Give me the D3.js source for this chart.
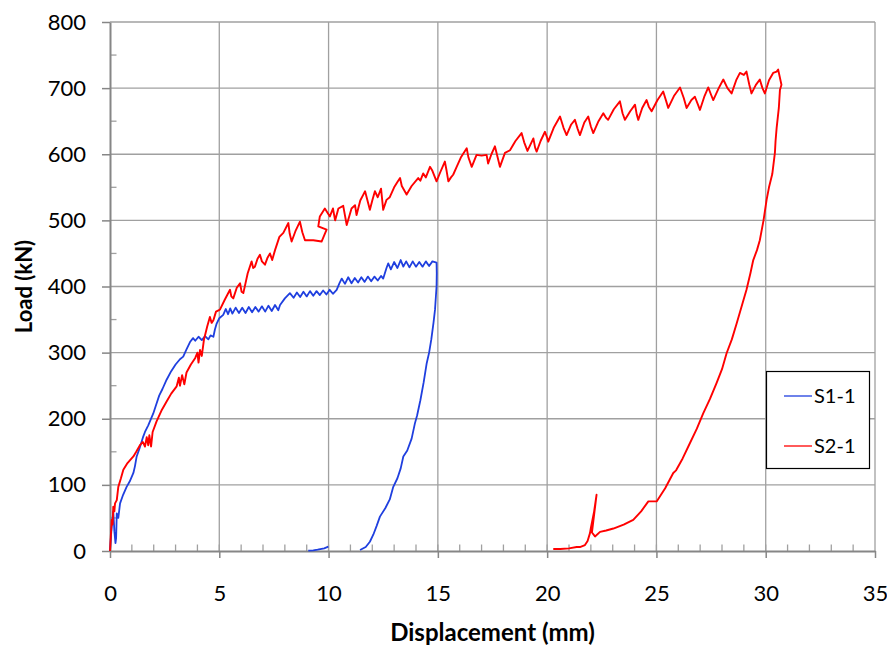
<!DOCTYPE html>
<html>
<head>
<meta charset="utf-8">
<script src="https://cdn.jsdelivr.net/npm/d3@7"></script>
<style>
  body { margin: 0; background: #fff; }
  text { font-family: Lato, "Open Sans", sans-serif; fill: #000; }
</style>
</head>
<body>
<div class="chart"></div>
<script>
// x ticks (mm) and y ticks (kN)
var xTicks = [0, 5, 10, 15, 20, 25, 30, 35]
var yTicks = [0, 100, 200, 300, 400, 500, 600, 700, 800]

// S1-1 displacement / load, null = break in the line
var s1x = [0,0.05,0.1,0.15,0.2,0.25,0.28,0.31,0.38,0.46,0.6,0.76,0.9,1.07,1.14,1.22,1.35,1.52,1.6,1.75,1.98,2.1,2.25,2.4,2.59,2.8,3.0,3.2,3.35,3.5,3.66,3.8,3.9,4.05,4.2,4.35,4.5,4.6,4.73,4.8,4.88,5.0,5.18,
  5.3,5.4,5.5,5.6,5.75,5.9,6.05,6.2,6.35,6.5,6.65,6.8,6.95,7.1,7.25,7.4,7.55,7.7,7.78,
  8.0,8.23,8.4,8.55,8.7,8.85,9.0,9.15,9.3,9.45,9.6,9.75,9.9,10.05,10.2,10.37,
  10.5,10.6,10.75,10.9,11.05,11.2,11.35,11.5,11.65,11.8,11.95,12.1,12.25,12.4,12.5,
  12.65,12.73,12.85,13.0,13.15,13.3,13.42,13.55,13.7,13.85,14.0,14.15,14.3,14.45,14.6,14.75,14.94,
  14.95,14.94,14.9,14.87,14.8,14.7,14.6,14.49,14.35,14.2,14.05,13.95,13.8,13.6,13.42,13.3,13.15,12.96,12.8,12.6,12.35,12.2,12.05,11.89,11.7,11.44,
  null,9.99,9.8,9.5,9.3,9.07]
var s1y = [0,25,45,60,30,12,20,57,50,72,85,97,105,118,128,143,155,173,180,190,208,220,235,245,259,272,282,290,294,305,316,322,318,324,319,325,320,326,324,335,344,352,357,
  366,358,367,359,368,360,368,360,369,361,369,362,370,362,371,363,372,364,372,
  382,390,383,391,384,392,385,393,386,393,387,394,388,395,389,395,
  405,412,404,414,405,413,406,414,407,415,408,415,409,416,412,
  428,435,426,437,428,440,430,438,429,438,430,437,430,438,431,438,436,
  420,400,380,365,345,320,300,284,255,228,205,193,170,152,143,125,110,97,78,65,52,38,25,14,6,1.5,
  null,6.5,4,2,1,0.5]

// S2-1 displacement / load
var s2x = [0,0.05,0.08,0.12,0.15,0.2,0.23,0.31,0.38,0.5,0.61,0.8,1.07,1.2,1.37,1.5,1.6,1.68,1.75,1.8,1.88,1.95,2.13,2.35,2.59,2.8,3.05,3.15,3.2,3.3,3.4,3.5,3.7,3.9,4.0,4.05,4.12,4.2,4.3,4.45,4.57,4.65,4.73,4.85,5.03,
  5.25,5.49,5.55,5.64,5.8,5.95,6.02,6.1,6.3,6.48,6.55,6.63,6.75,6.86,6.95,7.09,7.2,7.32,7.42,7.55,7.75,7.93,8.16,8.22,8.31,8.5,8.69,8.8,8.92,9.3,9.68,9.91,9.53,9.6,9.83,
  10.06,10.2,10.3,10.45,10.67,10.83,11.05,11.21,11.28,11.45,11.59,11.67,11.89,12.0,12.12,12.25,12.4,12.5,12.65,12.8,13.0,13.15,13.27,13.35,13.57,13.8,14.1,14.2,14.33,14.45,14.64,14.75,14.94,
  15.1,15.32,15.4,15.48,15.6,15.7,15.85,16.05,16.32,16.4,16.55,16.77,17.0,17.23,17.3,17.45,17.61,17.7,17.84,18.07,18.3,18.55,18.83,18.95,19.1,19.37,19.45,19.52,19.7,19.9,20.0,20.05,
  20.3,20.59,20.75,20.89,21.1,21.27,21.4,21.5,21.7,21.88,22.0,22.11,22.35,22.57,22.7,22.79,23.05,23.33,23.45,23.56,23.8,24.02,24.1,24.17,24.35,24.55,24.65,24.78,
  25.05,25.31,25.45,25.54,25.8,26.08,26.25,26.38,26.6,26.76,26.9,26.99,27.2,27.37,27.5,27.6,27.85,28.06,28.25,28.44,28.65,28.82,29.0,29.12,29.25,29.35,29.55,29.73,29.85,29.96,30.15,30.34,30.5,30.57,30.72,
  30.65,30.6,30.5,30.45,30.42,30.3,30.15,30.04,29.9,29.73,29.6,29.43,29.3,29.12,28.9,28.67,28.45,28.21,28.0,27.75,27.45,27.14,26.85,26.53,26.2,25.9,25.77,25.4,25.01,24.8,24.63,24.3,23.94,23.5,23.03,22.7,22.42,22.19,22.05,22.26,22.15,22.0,21.96,21.85,21.73,21.5,21.35,21.0,20.6,20.28]
var s2y = [0,30,47,40,67,60,72,77,97,110,123,133,143,150,160,165,158,172,160,175,158,180,196,212,226,238,249,262,250,266,252,270,282,292,300,285,304,295,320,340,354,345,349,362,365,
  380,395,385,382,398,405,392,390,420,438,428,430,442,448,438,433,443,450,440,455,475,481,496,480,468,485,498,482,470,470,468,486,491,506,518,
  506,518,500,518,522,493,518,523,508,530,539,544,516,530,544,535,548,516,531,535,550,558,564,552,539,552,564,560,571,565,581,575,559,
  572,589,575,559,565,569,580,595,609,595,581,599,598,599,586,600,612,600,581,602,606,620,632,618,605,624,610,604,620,634,625,619,
  640,657,640,629,645,652,638,629,648,657,642,632,650,662,655,652,668,680,662,652,665,675,660,652,670,682,672,665,
  682,695,680,670,688,701,685,670,682,687,675,667,688,701,690,682,700,713,700,692,712,723,720,725,705,692,705,713,700,692,712,723,725,728,705,
  697,670,640,620,602,570,550,531,500,470,455,440,420,395,370,344,320,299,275,254,230,208,185,163,140,122,118,95,75,75,75,60,47,40,34,31,29,22,28,85,60,35,27,15,9,6,6,4,3,3]

var seriesNames = ["S1-1", "S2-1"]
var seriesColors = ["#1f3fdf", "#ff0000"]

var width = 887
var height = 646
var m = {left: 110, right: 875, top: 22, bottom: 551}

var svg = d3.select(".chart")
    .append("svg")
    .attr("width", width)
    .attr("height", height)

var x = d3.scaleLinear().domain([0, 35]).range([m.left, m.right])
var y = d3.scaleLinear().domain([0, 800]).range([m.bottom, m.top])

// gridlines
svg.append("g")
    .selectAll("line")
    .data(xTicks.slice(1))
    .enter().append("line")
    .attr("x1", d => x(d)).attr("x2", d => x(d))
    .attr("y1", m.top).attr("y2", m.bottom)
    .attr("stroke", "#a0a0a0").attr("stroke-width", 1.3)

svg.append("g")
    .selectAll("line")
    .data(yTicks.slice(1))
    .enter().append("line")
    .attr("x1", m.left).attr("x2", m.right)
    .attr("y1", d => y(d)).attr("y2", d => y(d))
    .attr("stroke", "#a0a0a0").attr("stroke-width", 1.3)

// minor ticks (inside)
svg.append("g")
    .selectAll("line")
    .data(d3.range(1, 35))
    .enter().append("line")
    .attr("x1", d => x(d)).attr("x2", d => x(d))
    .attr("y1", m.bottom).attr("y2", m.bottom - 6.5)
    .attr("stroke", "#a0a0a0").attr("stroke-width", 1.3)

svg.append("g")
    .selectAll("line")
    .data(d3.range(50, 800, 100))
    .enter().append("line")
    .attr("x1", m.left).attr("x2", m.left + 6.5)
    .attr("y1", d => y(d)).attr("y2", d => y(d))
    .attr("stroke", "#a0a0a0").attr("stroke-width", 1.3)

// axes
var xAxis = svg.append("g")
    .attr("transform", "translate(0," + m.bottom + ")")
    .call(d3.axisBottom(x).tickValues(xTicks).tickSize(7).tickPadding(27).tickSizeOuter(0))
var yAxis = svg.append("g")
    .attr("transform", "translate(" + m.left + ",0)")
    .call(d3.axisLeft(y).tickValues(yTicks).tickSize(8).tickPadding(16).tickSizeOuter(0))

svg.selectAll(".domain").attr("stroke", "#868686").attr("stroke-width", 2)
svg.selectAll(".tick line").attr("stroke", "#868686").attr("stroke-width", 1.5)
svg.selectAll(".tick text").style("font-size", "22px").style("font-family", "Lato, sans-serif").attr("fill", "#000")

// series
var line = d3.line()
    .defined(d => d[1] !== null)
    .x(d => x(d[0]))
    .y(d => y(d[1]))

var s1 = s1x.map((d, i) => [d, s1y[i]])
var s2 = s2x.map((d, i) => [d, s2y[i]])

svg.append("path")
    .datum(s1)
    .attr("d", line)
    .attr("fill", "none")
    .attr("stroke", seriesColors[0])
    .attr("stroke-width", 1.8)
    .attr("stroke-linejoin", "round")

svg.append("path")
    .datum(s2)
    .attr("d", line)
    .attr("fill", "none")
    .attr("stroke", seriesColors[1])
    .attr("stroke-width", 1.9)
    .attr("stroke-linejoin", "round")

// axis titles
svg.append("text")
    .attr("x", (m.left + m.right) / 2)
    .attr("y", 641)
    .attr("text-anchor", "middle")
    .style("font-size", "24px")
    .style("font-weight", "bold")
    .text("Displacement (mm)")

svg.append("text")
    .attr("transform", "translate(32," + ((m.top + m.bottom) / 2) + ") rotate(-90)")
    .attr("text-anchor", "middle")
    .style("font-size", "22px")
    .style("font-weight", "bold")
    .text("Load (kN)")

// legend
var lg = svg.append("g")
lg.append("rect")
    .attr("x", 766.5).attr("y", 371.5)
    .attr("width", 103).attr("height", 97)
    .attr("fill", "#fff").attr("stroke", "#000").attr("stroke-width", 1.2)

seriesNames.forEach(function(name, i) {
    var yy = 396 + i * 50
    lg.append("line")
        .attr("x1", 784).attr("x2", 812)
        .attr("y1", yy).attr("y2", yy)
        .attr("stroke", seriesColors[i]).attr("stroke-width", 1.3)
    lg.append("text")
        .attr("x", 814).attr("y", yy + 7)
        .style("font-size", "20px")
        .text(name)
})
</script>
</body>
</html>
